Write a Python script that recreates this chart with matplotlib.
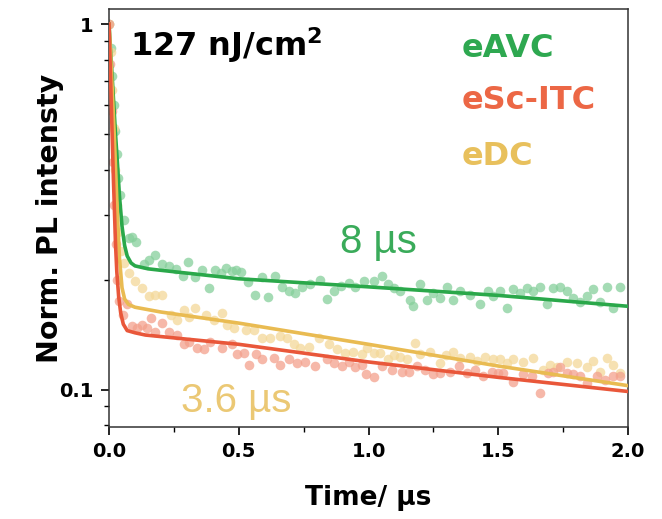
import matplotlib
matplotlib.use("Agg")
import matplotlib.pyplot as plt
from matplotlib.ticker import FixedLocator, NullFormatter

plt.rcParams["font.family"] = ["DejaVu Sans"]

# measured PL decay (time in us, normalised intensity)
eavc_t = [0.0, 0.006, 0.012, 0.018, 0.024, 0.030, 0.036, 0.042, 0.057, 0.076,
          0.088, 0.105, 0.134, 0.155, 0.179, 0.205, 0.230, 0.258, 0.284, 0.305,
          0.333, 0.360, 0.384, 0.410, 0.430, 0.450, 0.472, 0.490, 0.510, 0.537,
          0.564, 0.590, 0.614, 0.641, 0.667, 0.692, 0.718, 0.744, 0.776, 0.814,
          0.840, 0.866, 0.895, 0.923, 0.949, 0.981, 1.020, 1.052, 1.077, 1.100,
          1.122, 1.161, 1.173, 1.199, 1.225, 1.250, 1.276, 1.302, 1.327, 1.353,
          1.392, 1.430, 1.462, 1.481, 1.507, 1.533, 1.558, 1.584, 1.610, 1.635,
          1.661, 1.687, 1.712, 1.738, 1.764, 1.790, 1.815, 1.841, 1.866, 1.892,
          1.918, 1.943, 1.969]
eavc_y = [1.0, 0.86, 0.72, 0.60, 0.51, 0.44, 0.38, 0.34, 0.291, 0.260,
          0.262, 0.254, 0.220, 0.226, 0.234, 0.220, 0.218, 0.214, 0.204, 0.223,
          0.203, 0.212, 0.190, 0.213, 0.209, 0.215, 0.211, 0.212, 0.210, 0.197,
          0.182, 0.203, 0.179, 0.204, 0.191, 0.186, 0.184, 0.191, 0.194, 0.200,
          0.177, 0.186, 0.192, 0.196, 0.191, 0.198, 0.198, 0.204, 0.194, 0.190,
          0.186, 0.176, 0.169, 0.194, 0.176, 0.184, 0.178, 0.191, 0.176, 0.186,
          0.182, 0.171, 0.186, 0.180, 0.186, 0.167, 0.188, 0.184, 0.190, 0.186,
          0.191, 0.171, 0.190, 0.191, 0.186, 0.178, 0.174, 0.180, 0.188, 0.174,
          0.191, 0.167, 0.191]

esc_t = [0.0, 0.005, 0.010, 0.015, 0.020, 0.025, 0.032, 0.040, 0.055, 0.070,
         0.089, 0.108, 0.128, 0.147, 0.160, 0.179, 0.205, 0.230, 0.263, 0.288,
         0.307, 0.340, 0.365, 0.390, 0.436, 0.474, 0.494, 0.519, 0.538, 0.565,
         0.590, 0.634, 0.660, 0.692, 0.725, 0.757, 0.795, 0.840, 0.866, 0.898,
         0.923, 0.949, 0.975, 0.990, 1.020, 1.052, 1.090, 1.129, 1.155, 1.186,
         1.218, 1.250, 1.276, 1.315, 1.347, 1.379, 1.411, 1.443, 1.475, 1.500,
         1.520, 1.558, 1.597, 1.629, 1.661, 1.690, 1.712, 1.738, 1.764, 1.790,
         1.815, 1.841, 1.879, 1.911, 1.943, 1.969]
esc_y = [1.0, 0.78, 0.58, 0.42, 0.32, 0.25, 0.20, 0.175, 0.160, 0.171,
         0.149, 0.147, 0.150, 0.147, 0.157, 0.144, 0.152, 0.144, 0.141, 0.133,
         0.135, 0.130, 0.129, 0.135, 0.130, 0.133, 0.125, 0.126, 0.117, 0.125,
         0.121, 0.122, 0.117, 0.121, 0.118, 0.119, 0.116, 0.121, 0.118, 0.116,
         0.119, 0.115, 0.117, 0.110, 0.108, 0.116, 0.113, 0.112, 0.112, 0.116,
         0.113, 0.110, 0.111, 0.112, 0.116, 0.111, 0.113, 0.109, 0.112, 0.111,
         0.111, 0.105, 0.110, 0.109, 0.098, 0.111, 0.112, 0.115, 0.111, 0.110,
         0.109, 0.104, 0.109, 0.106, 0.109, 0.109]

edc_t = [0.0, 0.006, 0.012, 0.018, 0.024, 0.030, 0.036, 0.045, 0.058, 0.076,
         0.102, 0.128, 0.153, 0.179, 0.205, 0.237, 0.263, 0.288, 0.310, 0.333,
         0.372, 0.403, 0.436, 0.455, 0.480, 0.526, 0.557, 0.590, 0.622, 0.660,
         0.686, 0.711, 0.737, 0.769, 0.808, 0.846, 0.879, 0.910, 0.942, 0.975,
         0.995, 1.020, 1.045, 1.077, 1.100, 1.122, 1.150, 1.180, 1.199, 1.238,
         1.276, 1.300, 1.327, 1.353, 1.392, 1.420, 1.449, 1.481, 1.507, 1.533,
         1.558, 1.597, 1.635, 1.674, 1.700, 1.725, 1.764, 1.803, 1.841, 1.866,
         1.892, 1.918, 1.943, 1.969]
edc_y = [1.0, 0.84, 0.66, 0.52, 0.40, 0.32, 0.27, 0.24, 0.222, 0.208,
         0.198, 0.190, 0.180, 0.182, 0.182, 0.160, 0.155, 0.165, 0.158, 0.167,
         0.160, 0.155, 0.162, 0.150, 0.147, 0.146, 0.146, 0.138, 0.138, 0.140,
         0.138, 0.133, 0.130, 0.131, 0.138, 0.133, 0.129, 0.126, 0.127, 0.125,
         0.130, 0.126, 0.126, 0.121, 0.124, 0.123, 0.121, 0.134, 0.125, 0.127,
         0.118, 0.124, 0.127, 0.122, 0.123, 0.120, 0.123, 0.121, 0.121, 0.118,
         0.121, 0.119, 0.122, 0.113, 0.117, 0.115, 0.119, 0.118, 0.115, 0.120,
         0.112, 0.122, 0.117, 0.111]

# fitted curves
eavc_fit_t = [0, 0.005, 0.013, 0.025, 0.033, 0.04, 0.05, 0.06, 0.07, 0.085,
              0.1, 0.15, 0.2, 0.5, 1.0, 1.5, 2.0]
eavc_fit = [1.0, 0.86, 0.70, 0.50, 0.41, 0.34, 0.28, 0.248, 0.232, 0.222,
            0.218, 0.214, 0.212, 0.201, 0.191, 0.181, 0.169]
esc_fit_t = [0, 0.005, 0.01, 0.017, 0.025, 0.03, 0.037, 0.045, 0.055, 0.07,
             0.1, 0.14, 0.5, 1.0, 1.5, 2.0]
esc_fit = [1.0, 0.75, 0.56, 0.375, 0.25, 0.21, 0.18, 0.162, 0.151, 0.145,
           0.143, 0.141, 0.133, 0.119, 0.108, 0.0988]
edc_fit_t = [0, 0.005, 0.01, 0.02, 0.03, 0.04, 0.05, 0.06, 0.075, 0.1,
             0.2, 0.5, 1.0, 1.5, 2.0]
edc_fit = [1.0, 0.85, 0.72, 0.50, 0.33, 0.23, 0.19, 0.177, 0.171, 0.168,
           0.163, 0.152, 0.133, 0.116, 0.1025]

GREEN = "#2aa84a"
RED = "#e9573a"
YELLOW = "#e9bb52"

fig = plt.figure(figsize=(6.62, 5.19), dpi=100)
ax = fig.add_axes([0.1647, 0.1773, 0.7839, 0.8054])

ax.scatter(eavc_t, eavc_y, s=48, color="#86cf9b", alpha=0.75, linewidths=0, zorder=2)
ax.scatter(edc_t, edc_y, s=48, color="#f4d898", alpha=0.75, linewidths=0, zorder=2)
ax.scatter(esc_t, esc_y, s=48, color="#f3a08c", alpha=0.75, linewidths=0, zorder=2)

ax.plot(eavc_fit_t, eavc_fit, color=GREEN, lw=2.6, zorder=3)
ax.plot(edc_fit_t, edc_fit, color=YELLOW, lw=2.6, zorder=3)
ax.plot(esc_fit_t, esc_fit, color=RED, lw=2.6, zorder=3)

ax.set_yscale("log")
ax.set_xlim(0, 2.0)
ax.set_ylim(0.079, 1.1)

ax.set_xticks([0.0, 0.5, 1.0, 1.5, 2.0])
ax.set_xticklabels(["0.0", "0.5", "1.0", "1.5", "2.0"])
ax.xaxis.set_minor_locator(FixedLocator([0.25, 0.75, 1.25, 1.75]))
ax.set_yticks([0.1, 1])
ax.set_yticklabels(["0.1", "1"])
ax.yaxis.set_minor_locator(FixedLocator([0.08, 0.09, 0.2, 0.3, 0.4, 0.5, 0.6, 0.7, 0.8, 0.9]))
ax.yaxis.set_minor_formatter(NullFormatter())

ax.tick_params(which="major", direction="out", length=6, width=1.2, labelsize=14, pad=5)
ax.tick_params(which="minor", direction="out", length=3.5, width=1.0)
for lab in ax.get_xticklabels() + ax.get_yticklabels():
    lab.set_fontweight("bold")

for spine in ax.spines.values():
    spine.set_color("#333333")
    spine.set_linewidth(1.1)

ax.set_xlabel("Time/ µs", fontsize=19, fontweight="bold", labelpad=17)
ax.set_ylabel("Norm. PL intensty", fontsize=20.5, fontweight="bold", labelpad=-3)

ax.text(0.041, 0.96, "127 nJ/cm$^\\mathbf{2}$", transform=ax.transAxes,
        fontsize=23, fontweight="bold", va="top", ha="left")
ax.text(0.68, 0.905, "eAVC", transform=ax.transAxes, color="#2ea850",
        fontsize=23, fontweight="bold", va="center", ha="left")
ax.text(0.68, 0.78, "eSc-ITC", transform=ax.transAxes, color="#ec6745",
        fontsize=23, fontweight="bold", va="center", ha="left")
ax.text(0.68, 0.648, "eDC", transform=ax.transAxes, color="#e8c05c",
        fontsize=23, fontweight="bold", va="center", ha="left")
ax.text(0.446, 0.416, "8 µs", transform=ax.transAxes, color="#3aab5a",
        fontsize=29, family=["Liberation Sans", "DejaVu Sans"], va="baseline", ha="left")
ax.text(0.138, 0.036, "3.6 µs", transform=ax.transAxes, color="#ebc874",
        fontsize=29, family=["Liberation Sans", "DejaVu Sans"], va="baseline", ha="left")

fig.savefig("out.png", dpi=100)
